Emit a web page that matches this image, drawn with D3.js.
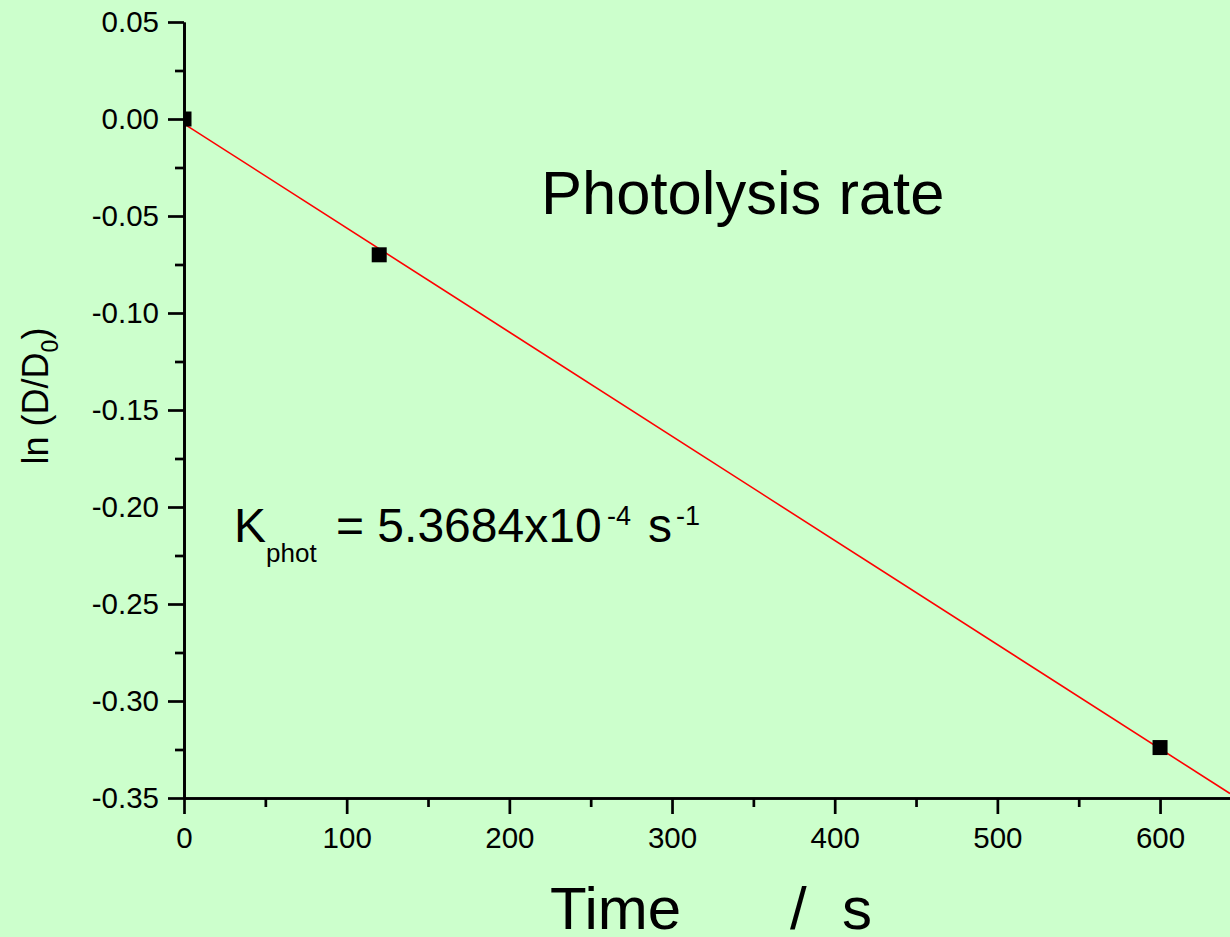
<!DOCTYPE html>
<html>
<head>
<meta charset="utf-8">
<script src="https://cdn.jsdelivr.net/npm/d3@7"></script>
<style>
  html, body { margin: 0; padding: 0; background: #ccffcc; overflow: hidden; }
  svg { display: block; font-family: "Liberation Sans", Arial, sans-serif; }
  .axis path, .axis line { stroke: #000; stroke-width: 2.7; }
  .axis text { font-family: "Liberation Sans", Arial, sans-serif; fill: #000; }
</style>
</head>
<body>
<div id="chart"></div>
<script>

// measured points: time (s) and ln(D/D0)
var times = [0, 120, 600];
var lnRatio = [0.0, -0.070, -0.324];

var xMajorTicks = [0, 100, 200, 300, 400, 500, 600];
var xMinorTicks = [50, 150, 250, 350, 450, 550];
var yMajorTicks = [0.05, 0.00, -0.05, -0.10, -0.15, -0.20, -0.25, -0.30, -0.35];
var yMinorTicks = [0.025, -0.025, -0.075, -0.125, -0.175, -0.225, -0.275, -0.325];

var width = 1230;
var height = 937;

var padding = {top: 22, bottom: 139, left: 184, right: 0};

var x_scale = d3.scaleLinear()
    .domain([0, 643])
    .range([padding.left, width - padding.right]);

var y_scale = d3.scaleLinear()
    .domain([-0.35, 0.05])
    .range([height - padding.bottom, padding.top]);

var data = times.map(function(t, i){ return {x: t, y: lnRatio[i]}; });

// least squares fit of the points
var mx = d3.mean(data, function(d){ return d.x; });
var my = d3.mean(data, function(d){ return d.y; });
var sxy = d3.sum(data, function(d){ return (d.x - mx) * (d.y - my); });
var sxx = d3.sum(data, function(d){ return (d.x - mx) * (d.x - mx); });
var slope = sxy / sxx;
var intercept = my - slope * mx;
var fit = x_scale.domain().map(function(t){ return {x: t, y: intercept + slope * t}; });

var svg = d3.select("#chart")
    .append("svg")
    .attr("width", width)
    .attr("height", height);

svg.append("rect")
    .attr("width", width)
    .attr("height", height)
    .attr("fill", "#ccffcc");

svg.append("clipPath")
    .attr("id", "plot-clip")
  .append("rect")
    .attr("x", padding.left)
    .attr("y", 0)
    .attr("width", width - padding.left)
    .attr("height", height - padding.bottom);

var plot = svg.append("g")
    .attr("clip-path", "url(#plot-clip)");

var line = d3.line()
    .x(function(d){ return x_scale(d.x); })
    .y(function(d){ return y_scale(d.y); });

plot.append("path")
    .datum(fit)
    .attr("d", line)
    .attr("fill", "none")
    .attr("stroke", "#ff0000")
    .attr("stroke-width", 1.6);

var sq = 15;
plot.selectAll("rect.point")
    .data(data)
    .enter()
    .append("rect")
    .attr("class", "point")
    .attr("x", function(d){ return x_scale(d.x) - sq / 2; })
    .attr("y", function(d){ return y_scale(d.y) - sq / 2; })
    .attr("width", sq)
    .attr("height", sq)
    .attr("fill", "#000");

// axes
var fmt = function(d){ return Math.abs(d) < 1e-9 ? "0.00" : d.toFixed(2); };

svg.append("g")
    .attr("class", "y axis")
    .attr("transform", "translate(" + padding.left + ",0)")
    .call(d3.axisLeft(y_scale).tickValues(yMinorTicks).tickSize(9).tickSizeOuter(0).tickFormat(""));

svg.append("g")
    .attr("class", "y axis")
    .attr("transform", "translate(" + padding.left + ",0)")
    .call(d3.axisLeft(y_scale).tickValues(yMajorTicks).tickSize(16).tickSizeOuter(0).tickPadding(9).tickFormat(fmt))
    .selectAll("text")
        .attr("font-size", "29.5px");

svg.append("g")
    .attr("class", "x axis")
    .attr("transform", "translate(0," + (height - padding.bottom) + ")")
    .call(d3.axisBottom(x_scale).tickValues(xMinorTicks).tickSize(9).tickSizeOuter(0).tickFormat(""));

svg.append("g")
    .attr("class", "x axis")
    .attr("transform", "translate(0," + (height - padding.bottom) + ")")
    .call(d3.axisBottom(x_scale).tickValues(xMajorTicks).tickSize(16).tickSizeOuter(0).tickPadding(13))
    .selectAll("text")
        .attr("font-size", "29.5px");

// titles
svg.append("text")
    .attr("x", 541)
    .attr("y", 214)
    .attr("font-size", "61.5px")
    .text("Photolysis rate");

var xTitle = svg.append("text")
    .attr("y", 929)
    .attr("font-size", "60px");
xTitle.append("tspan").attr("x", 550).text("Time");
xTitle.append("tspan").attr("x", 790).text("/");
xTitle.append("tspan").attr("x", 842).text("s");

var yTitle = svg.append("text")
    .attr("transform", "translate(48,396) rotate(-90)")
    .attr("text-anchor", "middle")
    .attr("font-size", "36px");
yTitle.append("tspan").text("ln (D/D");
yTitle.append("tspan").attr("font-size", "23px").attr("dy", 10).text("0");
yTitle.append("tspan").attr("dy", -10).text(")");

var kText = svg.append("text")
    .attr("y", 542)
    .attr("font-size", "48px");
kText.append("tspan").attr("x", 234).text("K");
kText.append("tspan").attr("x", 266).attr("dy", 20).attr("font-size", "26px").text("phot");
kText.append("tspan").attr("x", 336).attr("dy", -20).text("= 5.3684x10");
kText.append("tspan").attr("x", 607).attr("dy", -17).attr("font-size", "27px").text("-4");
kText.append("tspan").attr("x", 648).attr("dy", 17).text("s");
kText.append("tspan").attr("x", 676).attr("dy", -17).attr("font-size", "27px").text("-1");

</script>
</body>
</html>
